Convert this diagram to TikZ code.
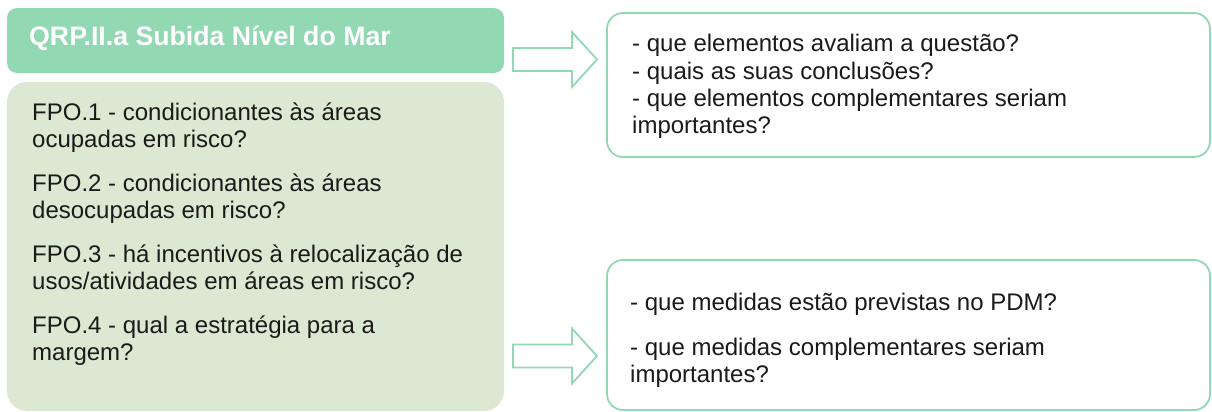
\documentclass[tikz,border=0pt]{standalone}
\usepackage{fontspec}
\setmainfont{Liberation Sans}
\usepackage{xcolor}
\definecolor{qrpgreen}{HTML}{92D8B2}
\definecolor{fpogreen}{HTML}{DCE8D1}
\definecolor{txtgrey}{HTML}{1A1A1A}

\begin{document}
\begin{tikzpicture}[x=1pt,y=-1pt,
  line/.style={anchor=base west,inner sep=0pt,text=txtgrey,font=\fontsize{24}{27.6}\selectfont},
  answerbox/.style={draw=qrpgreen,line width=1.8pt,rounded corners=16pt},
  blockarrow/.style={draw=qrpgreen,line width=1.8pt,fill=white}]
\useasboundingbox (0,0) rectangle (1212,412);
\fill[qrpgreen,rounded corners=10pt] (7,8) rectangle (504,73);
\node[anchor=base west,inner sep=0pt,text=white,font=\fontsize{26.7}{30}\selectfont\bfseries] (qrp) at (29,46) {QRP.II.a Subida Nível do Mar};
\fill[fpogreen,rounded corners=20pt] (7,82) rectangle (504,411);
\foreach \y/\t [count=\i] in {120/{FPO.1 - condicionantes às áreas},147/{ocupadas em risco?},
    191/{FPO.2 - condicionantes às áreas},218/{desocupadas em risco?},
    262/{FPO.3 - há incentivos à relocalização de},289/{usos/atividades em áreas em risco?},
    333/{FPO.4 - qual a estratégia para a},360/{margem?}}
  \node[line] (fpo\i) at (32,\y) {\t};
\foreach \ay in {59.5,356}
  \draw[blockarrow] (513,\ay-11.5) -- (572,\ay-11.5) -- (572,\ay-27.5) -- (597,\ay)
    -- (572,\ay+27.5) -- (572,\ay+11.5) -- (513,\ay+11.5) -- cycle;
\draw[answerbox] (607,13) rectangle (1210,157);
\foreach \y/\t [count=\i] in {52/{- que elementos avaliam a questão?},79/{- quais as suas conclusões?},
    106/{- que elementos complementares seriam},133/{importantes?}}
  \node[line] (eval\i) at (632,\y) {\t};
\draw[answerbox] (607,260) rectangle (1210,410);
\foreach \y/\t [count=\i] in {310/{- que medidas estão previstas no PDM?},355/{- que medidas complementares seriam},
    382/{importantes?}}
  \node[line] (pdm\i) at (630,\y) {\t};
\end{tikzpicture}
\end{document}
